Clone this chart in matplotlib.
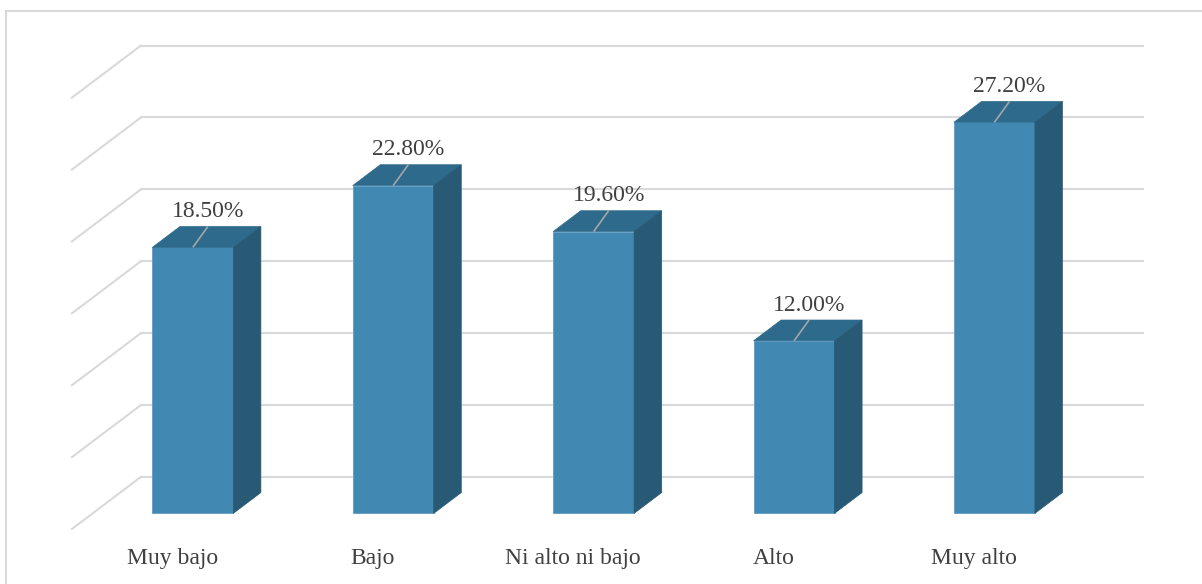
import numpy as np
import matplotlib.pyplot as plt
from matplotlib.patches import Polygon, Rectangle

categories = ['Muy bajo', 'Bajo', 'Ni alto ni bajo', 'Alto', 'Muy alto']
values = [18.5, 22.8, 19.6, 12.0, 27.2]
grid_ticks = [0, 5, 10, 15, 20, 25, 30]

plt.rcParams['font.family'] = ['Liberation Serif', 'DejaVu Serif']

# oblique depth vector for the full floor depth, in data units
DX = 0.344
DY = 3.62
z0, z1 = 0.3, 0.7          # bar sits in the middle of the floor depth
width = 0.404

front_c = '#4189B3'
top_c = '#2E6A8B'
side_c = '#285A75'
grid_c = '#D9D9D9'
text_c = '#404040'

fig = plt.figure(figsize=(12.02, 5.84), dpi=100)
ax = fig.add_axes([0, 0, 1, 1])
ax.set_xlim(-0.859, 5.139)
ax.set_ylim(-3.825, 36.79)
ax.axis('off')

# back wall and left wall gridlines
for v in grid_ticks:
    ax.plot([-0.5 + DX, 4.5 + DX], [v + DY, v + DY], color=grid_c, lw=1.5, zorder=1)
    ax.plot([-0.5, -0.5 + DX], [v, v + DY], color=grid_c, lw=1.5, zorder=1)

x = np.arange(len(categories))
xf = x + z0 * DX
ax.bar(xf, values, width=width, bottom=z0 * DY, color=front_c,
       edgecolor='#5C9DC4', linewidth=0.6, zorder=3)

dx = (z1 - z0) * DX
dy = (z1 - z0) * DY
for xi, v in zip(xf, values):
    l, r = xi - width / 2, xi + width / 2
    t = v + z0 * DY
    b = z0 * DY
    top = Polygon([(l, t), (r, t), (r + dx, t + dy), (l + dx, t + dy)],
                  closed=True, facecolor=top_c, edgecolor=top_c, lw=0.5, zorder=3)
    side = Polygon([(r, b), (r + dx, b + dy), (r + dx, t + dy), (r, t)],
                   closed=True, facecolor=side_c, edgecolor=side_c, lw=0.5, zorder=3)
    ax.add_patch(top)
    ax.add_patch(side)

    # leader from the top face to the value label
    lx = xi + 0.075
    ax.plot([xi, lx], [t, t + dy], color='#A6A6A6', lw=1.2, zorder=4,
            solid_capstyle='butt')
    ax.text(lx, t + dy + 0.3, f'{v:.2f}%', ha='center', va='bottom',
            fontsize=17, color=text_c, zorder=5)

for xi, name in zip(x, categories):
    ax.text(xi, -2.05, name, ha='center', va='center', fontsize=17, color=text_c)

# chart frame
fig.patches.append(Rectangle((5.5 / 1202, -0.1), 1.2, 1 - 10.5 / 584 + 0.1,
                             transform=fig.transFigure, fill=False,
                             edgecolor=grid_c, lw=1.5))

fig.savefig('out.png', dpi=100)
